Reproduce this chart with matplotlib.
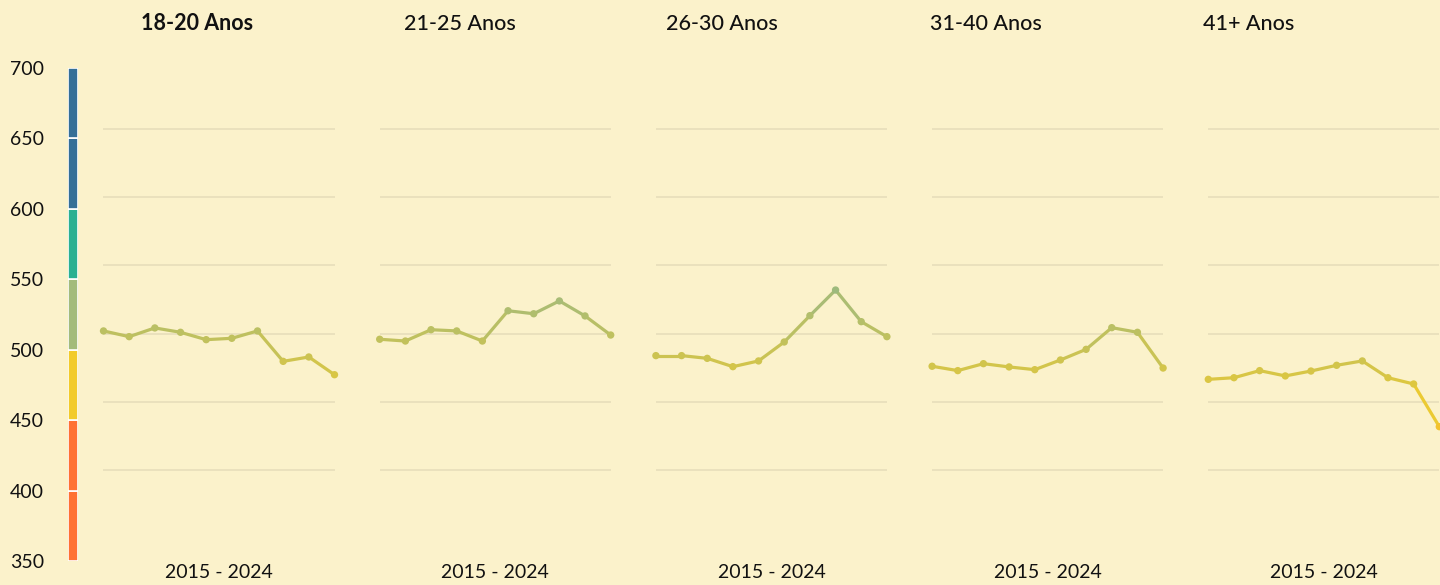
import matplotlib
matplotlib.use('Agg')
from matplotlib import pyplot as plt
from matplotlib.collections import LineCollection
from matplotlib.colors import LinearSegmentedColormap, Normalize
import numpy as np

plt.rcParams['font.family'] = ['Lato', 'DejaVu Sans']

# ---- data ----
years = [2015, 2016, 2017, 2018, 2019, 2020, 2021, 2022, 2023, 2024]
groups = ['18-20 Anos', '21-25 Anos', '26-30 Anos', '31-40 Anos', '41+ Anos']
scores = [
    [501.9, 497.7, 504.1, 500.9, 495.5, 496.5, 501.9, 479.6, 482.8, 469.8],
    [495.8, 494.5, 502.8, 501.9, 494.5, 516.7, 514.5, 523.9, 512.9, 498.9],
    [483.8, 483.8, 481.8, 475.7, 479.9, 493.8, 513.1, 531.9, 508.7, 497.7],
    [476.0, 472.8, 477.9, 475.5, 473.5, 480.6, 488.4, 504.3, 500.9, 474.7],
    [466.4, 467.6, 472.8, 468.9, 472.5, 476.7, 479.9, 467.6, 463.0, 431.7],
]
period_label = '2015 - 2024'

# legend bands (lower bound, upper bound, colour)
band_edges = [350, 400, 450, 500, 550, 600, 650, 700]
band_colors = ['#FF7134', '#FF7134', '#F2CB2B', '#A3BB7B', '#2AB092', '#356F97', '#356F97']
grid_values = [400, 450, 500, 550, 600, 650]

bg = '#FBF2CB'
grid_color = '#E6DDB9'

# value -> colour for the lines
cmap = LinearSegmentedColormap.from_list(
    'score',
    [(0.0, '#FF7134'), ((440 - 350) / 350, '#F2CB2B'), ((530 - 350) / 350, '#A3BB7B'),
     ((580 - 350) / 350, '#2AB092'), ((650 - 350) / 350, '#356F97'), (1.0, '#356F97')])
norm = Normalize(350, 700)

W, H = 1440, 585
fig = plt.figure(figsize=(W / 100, H / 100), dpi=100, facecolor=bg)


def px_box(x0, y0, x1, y1):
    return [x0 / W, 1 - y1 / H, (x1 - x0) / W, (y1 - y0) / H]


# ---- colour legend bar ----
cax = fig.add_axes(px_box(68, 68, 78, 561))
cax.set_facecolor('none')
for lo, hi, c in zip(band_edges[:-1], band_edges[1:], band_colors):
    cax.bar(0, hi - lo, bottom=lo, width=1, color=c, edgecolor='white', linewidth=1.2)
cax.set_xlim(-0.5, 0.5)
cax.set_ylim(350, 700)
cax.set_xticks([])
cax.set_yticks(band_edges)
cax.tick_params(axis='y', length=0, pad=42, labelsize=14, labelcolor='#111111')
for lbl in cax.get_yticklabels():
    lbl.set_horizontalalignment('left')
for s in cax.spines.values():
    s.set_visible(False)

# ---- small multiples ----
panel_left = 103.5
panel_step = 276.2
panel_width = 231
ylim = (333.2, 694.7)
title_x = [197, 460, 722, 986, 1249]

for i, (name, vals) in enumerate(zip(groups, scores)):
    x0 = panel_left + i * panel_step
    ax = fig.add_axes(px_box(x0, 68, x0 + panel_width, 561))
    ax.set_facecolor('none')
    ax.set_xlim(years[0], years[-1])
    ax.set_ylim(*ylim)
    for g in grid_values:
        ax.axhline(g, color=grid_color, linewidth=1.1, zorder=1)

    pts = np.column_stack([years, vals])
    segs = np.stack([pts[:-1], pts[1:]], axis=1)
    mids = (np.array(vals[:-1]) + np.array(vals[1:])) / 2
    lc = LineCollection(segs, colors=cmap(norm(mids)), linewidths=2.3,
                        capstyle='round', joinstyle='round', zorder=2, clip_on=False)
    ax.add_collection(lc)
    ax.scatter(years, vals, s=28, c=cmap(norm(np.array(vals))), zorder=3,
               linewidths=0, clip_on=False)

    ax.axis('off')

    fig.text(title_x[i] / W, 1 - 24 / H, name, ha='center', va='center',
             fontsize=15.5, fontweight='bold' if i == 0 else 'medium', color='#111111')
    fig.text((x0 + panel_width / 2) / W, 1 - 573 / H, period_label, ha='center',
             va='center', fontsize=14, color='#111111')

plt.savefig('out.png', dpi=100, facecolor=bg)
